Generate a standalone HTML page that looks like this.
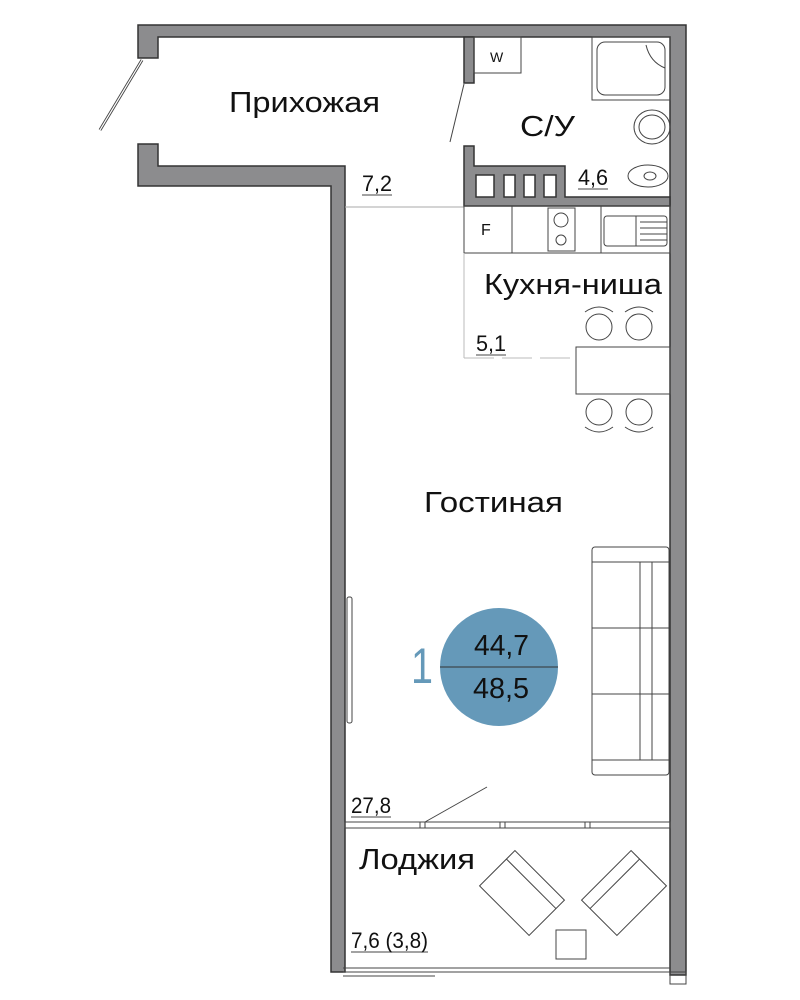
<!DOCTYPE html>
<html><head><meta charset="utf-8"><style>
html,body{margin:0;padding:0;background:#fff}
svg{display:block}
text{font-family:"Liberation Sans",sans-serif}
</style></head><body>
<svg width="800" height="1000" viewBox="0 0 800 1000" xmlns="http://www.w3.org/2000/svg">
<g fill="#8c8c8e" stroke="#333" stroke-width="1.5">
<path d="M138 25 H686 V975 H670 V37 H158 V58 H138 Z"/>
<path d="M138 144 H158 V166 H345 V972 H331 V186 H138 Z"/>
<rect x="464" y="37" width="10" height="46"/>
<path d="M464 146 H474 V166 H565 V197 H670 V206 H464 Z"/>
</g>
<g fill="#fff" stroke="#333" stroke-width="1.5">
<rect x="476" y="175" width="18" height="22"/>
<rect x="504" y="175" width="11" height="22"/>
<rect x="524" y="175" width="11" height="22"/>
<rect x="544" y="175" width="12" height="22"/>
</g>
<g fill="none" stroke="#444" stroke-width="1">
<line x1="142" y1="60" x2="100" y2="130" stroke-width="3"/>
<line x1="142" y1="60" x2="100" y2="130" stroke="#fff" stroke-width="1.2"/>
<line x1="464" y1="84" x2="450" y2="142"/>
<rect x="474" y="37" width="47" height="36"/>
<rect x="592" y="37" width="78" height="63"/>
<rect x="597" y="42" width="68" height="53" rx="8"/>
<path d="M646 45 Q650 62 665 68"/>
<ellipse cx="652" cy="127" rx="18" ry="17"/>
<ellipse cx="652" cy="127" rx="13" ry="12"/>
<ellipse cx="648" cy="176" rx="20" ry="11"/>
<ellipse cx="650" cy="176" rx="6" ry="4"/>
<line x1="345" y1="207" x2="464" y2="207" stroke="#aaa"/>
<rect x="464" y="206" width="206" height="47"/>
<line x1="512" y1="206" x2="512" y2="253"/>
<rect x="548" y="208" width="27" height="43"/>
<circle cx="561" cy="220" r="7"/><circle cx="561" cy="240" r="5"/>
<line x1="601" y1="206" x2="601" y2="253"/>
<rect x="604" y="216" width="63" height="30" rx="3"/>
<line x1="636" y1="216" x2="636" y2="246"/>
<line x1="640" y1="222" x2="667" y2="222"/><line x1="640" y1="228" x2="667" y2="228"/><line x1="640" y1="234" x2="667" y2="234"/><line x1="640" y1="240" x2="667" y2="240"/>
<line x1="464" y1="253" x2="464" y2="358" stroke="#bbb"/>
<line x1="464" y1="358" x2="576" y2="358" stroke="#bbb" stroke-dasharray="30 8"/>
<rect x="576" y="347" width="94" height="47"/>
<circle cx="599" cy="327" r="13"/><circle cx="639" cy="327" r="13"/>
<circle cx="599" cy="412" r="13"/><circle cx="639" cy="412" r="13"/>
<path d="M585 312 Q599 302 613 312 M625 312 Q639 302 653 312 M585 427 Q599 437 613 427 M625 427 Q639 437 653 427"/>
<rect x="592" y="547" width="77" height="228" rx="3"/>
<line x1="592" y1="562" x2="669" y2="562"/><line x1="592" y1="760" x2="669" y2="760"/>
<line x1="640" y1="562" x2="640" y2="760"/><line x1="652" y1="562" x2="652" y2="760"/>
<line x1="592" y1="628" x2="669" y2="628"/><line x1="592" y1="694" x2="669" y2="694"/>
<rect x="347" y="597" width="5" height="126" rx="2"/>
<line x1="425" y1="822" x2="487" y2="787"/>
<rect x="345" y="822" width="325" height="6"/>
<line x1="420" y1="822" x2="420" y2="828"/><line x1="425" y1="822" x2="425" y2="828"/>
<line x1="500" y1="822" x2="500" y2="828"/><line x1="505" y1="822" x2="505" y2="828"/>
<line x1="585" y1="822" x2="585" y2="828"/><line x1="590" y1="822" x2="590" y2="828"/>
<g transform="translate(522,893) rotate(45)"><rect x="-35" y="-25" width="70" height="50"/><line x1="-35" y1="-13" x2="35" y2="-13"/></g>
<g transform="translate(624,893) rotate(-45)"><rect x="-35" y="-25" width="70" height="50"/><line x1="-35" y1="-13" x2="35" y2="-13"/></g>
<rect x="556" y="930" width="30" height="29"/>
<line x1="343" y1="968" x2="670" y2="968"/>
<line x1="343" y1="972" x2="670" y2="972"/>
<line x1="343" y1="976" x2="435" y2="976"/>
<rect x="670" y="972" width="16" height="12"/>
<line x1="362" y1="195" x2="392" y2="195"/>
<line x1="578" y1="189" x2="608" y2="189"/>
<line x1="476" y1="355" x2="506" y2="355"/>
<line x1="351" y1="817" x2="391" y2="817"/>
<line x1="351" y1="952" x2="428" y2="952"/>
</g>
<circle cx="499" cy="667" r="59" fill="#6599b9"/>
<line x1="440" y1="667" x2="558" y2="667" stroke="#333" stroke-width="1"/>
<g fill="#111">
<text x="229" y="112" font-size="29" textLength="151" lengthAdjust="spacingAndGlyphs">Прихожая</text>
<text x="520" y="136" font-size="29" textLength="55" lengthAdjust="spacingAndGlyphs">С/У</text>
<text x="484" y="294" font-size="29" textLength="178" lengthAdjust="spacingAndGlyphs">Кухня-ниша</text>
<text x="424" y="512" font-size="29" textLength="139" lengthAdjust="spacingAndGlyphs">Гостиная</text>
<text x="359" y="869" font-size="29" textLength="116" lengthAdjust="spacingAndGlyphs">Лоджия</text>
<text x="362" y="191" font-size="22" textLength="30" lengthAdjust="spacingAndGlyphs">7,2</text>
<text x="578" y="185" font-size="22" textLength="30" lengthAdjust="spacingAndGlyphs">4,6</text>
<text x="476" y="351" font-size="22" textLength="30" lengthAdjust="spacingAndGlyphs">5,1</text>
<text x="351" y="813" font-size="22" textLength="40" lengthAdjust="spacingAndGlyphs">27,8</text>
<text x="351" y="948" font-size="22" textLength="77" lengthAdjust="spacingAndGlyphs">7,6 (3,8)</text>
<text x="490" y="62" font-size="14">W</text>
<text x="481" y="235" font-size="16">F</text>
<text x="474" y="655" font-size="29" textLength="55" lengthAdjust="spacingAndGlyphs">44,7</text>
<text x="473" y="698" font-size="29" textLength="56" lengthAdjust="spacingAndGlyphs">48,5</text>
</g>
<text x="411" y="683" font-size="50" fill="#6599b9" textLength="22" lengthAdjust="spacingAndGlyphs">1</text>
</svg>
</body></html>
